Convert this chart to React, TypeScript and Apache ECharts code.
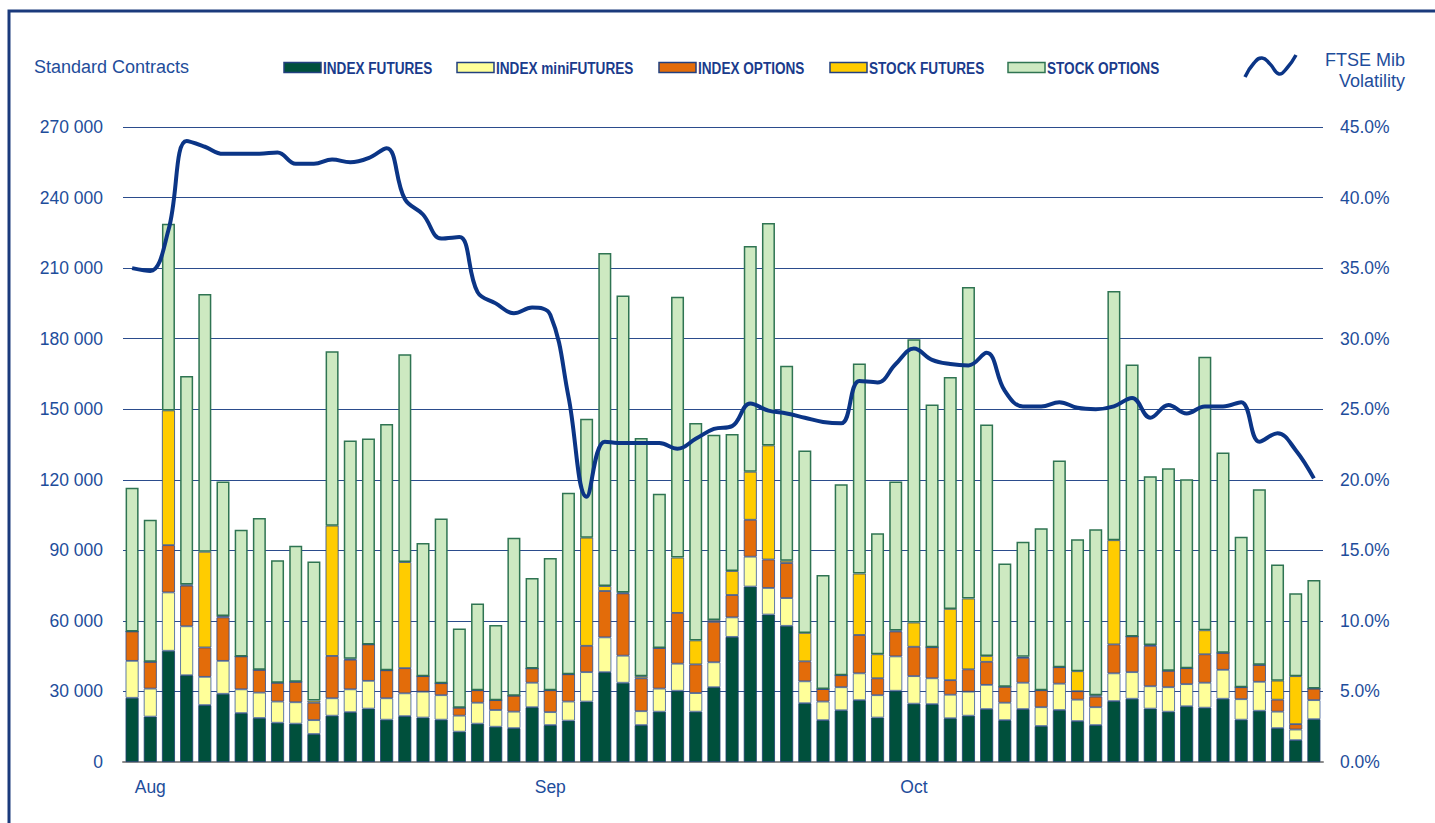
import React, { useEffect, useRef } from 'react';
import * as echarts from 'echarts';

// 66 trading days (Aug–Oct)
const categories: string[] = Array.from({ length: 66 }, (_, i) => `Day ${i + 1}`);
const monthTicks = [
  { index: 1, label: 'Aug' },
  { index: 23, label: 'Sep' },
  { index: 43, label: 'Oct' },
];

// Values in thousands of standard contracts
const indexFutures = [
  27.3, 19.3, 47.3, 36.9, 24.2, 29.0, 20.8, 18.7, 16.7, 16.3, 11.9, 19.7, 21.2, 22.7, 18.0, 19.5, 18.9, 18.0, 12.9, 16.3, 15.0, 14.4,
  23.3, 15.7, 17.6, 25.7, 38.2, 33.7, 15.7, 21.4, 30.3, 21.4, 31.8, 53.2, 74.6, 62.7, 57.9, 25.0, 17.8, 22.0, 26.3, 18.9, 30.3, 24.8,
  24.6, 18.6, 19.7, 22.5, 17.8, 22.5, 15.3, 22.1, 17.4, 15.7, 25.9, 26.9, 22.7, 21.4, 23.7, 23.1, 26.9, 18.0, 21.8, 14.4, 9.3, 18.2,
];
const indexMiniFutures = [
  15.7, 11.9, 24.8, 20.8, 12.0, 14.0, 10.1, 10.8, 9.0, 9.1, 5.9, 7.4, 9.7, 11.8, 9.1, 9.7, 11.0, 10.4, 6.8, 8.9, 7.1, 7.0,
  10.4, 5.5, 8.1, 12.5, 14.8, 11.5, 5.9, 9.8, 11.5, 7.9, 10.6, 8.3, 12.7, 11.3, 11.8, 9.3, 7.9, 9.8, 11.4, 9.5, 14.6, 11.7,
  11.0, 10.0, 10.2, 10.3, 7.4, 11.2, 8.0, 11.2, 9.1, 7.6, 11.8, 11.3, 9.5, 10.4, 9.4, 10.6, 12.3, 8.7, 12.3, 7.0, 4.5, 8.1,
];
const indexOptions = [
  12.5, 11.4, 20.1, 17.3, 12.5, 18.5, 14.0, 9.7, 8.0, 8.7, 7.4, 18.0, 12.6, 15.5, 11.9, 10.7, 6.6, 5.1, 3.4, 5.3, 4.2, 6.8,
  6.1, 9.3, 11.6, 11.2, 19.7, 26.5, 14.0, 17.3, 21.6, 12.2, 17.2, 9.5, 15.7, 12.1, 14.9, 8.5, 5.3, 5.1, 16.3, 7.2, 10.6, 12.5,
  13.2, 6.2, 9.5, 9.8, 6.8, 10.6, 7.2, 7.0, 3.6, 4.5, 12.3, 15.2, 17.2, 7.0, 6.8, 12.1, 7.2, 5.1, 7.2, 5.1, 2.3, 4.9,
];
const stockFutures = [
  0, 0, 57.3, 0.5, 40.7, 0.6, 0, 0, 0, 0, 0.9, 55.4, 0.4, 0, 0, 45.1, 0, 0, 0, 0, 0, 0,
  0, 0, 0, 46.0, 2.1, 0.4, 0.9, 0, 23.5, 10.2, 0.8, 10.2, 20.4, 48.5, 1.0, 12.1, 0, 0, 26.1, 10.2, 0.4, 10.3,
  0, 30.3, 30.1, 2.5, 0, 0.4, 0, 0, 8.5, 0.6, 44.3, 0, 0.4, 0, 0, 10.2, 0, 0, 0, 8.1, 20.4, 0,
];
const stockOptions = [
  61.1, 60.4, 79.4, 88.6, 109.6, 57.2, 53.9, 64.5, 52.1, 57.9, 59.1, 74.2, 92.8, 87.6, 104.7, 88.4, 56.6, 70.0, 33.7, 36.9, 32.0, 67.2,
  38.4, 56.2, 77.2, 50.6, 141.6, 126.3, 101.3, 65.6, 110.9, 92.4, 78.7, 58.3, 96.0, 94.6, 82.9, 77.6, 48.5, 81.2, 89.3, 51.5, 63.4, 120.5,
  103.2, 98.6, 132.5, 98.4, 52.4, 49.0, 68.9, 87.9, 56.1, 70.6, 106.0, 115.6, 71.7, 86.1, 80.3, 116.3, 85.2, 64.0, 74.7, 49.4, 35.2, 46.2,
];
// FTSE Mib volatility, %
const volatility = [
  35.0, 34.8, 37.7, 44.0, 43.6, 43.1, 43.1, 43.1, 43.2, 42.4, 42.4, 42.7, 42.5, 42.8, 43.5, 39.9, 38.8, 37.1, 37.2, 33.3, 32.5, 31.8,
  32.2, 31.7, 25.9, 18.8, 22.7, 22.6, 22.6, 22.6, 22.2, 22.9, 23.6, 23.8, 25.4, 24.9, 24.7, 24.4, 24.1, 24.0, 27.0, 26.9, 28.2, 29.3,
  28.5, 28.2, 28.1, 29.0, 26.3, 25.2, 25.2, 25.5, 25.1, 25.0, 25.2, 25.8, 24.4, 25.3, 24.7, 25.2, 25.2, 25.5, 22.7, 23.3, 22.1, 20.1,
];

const BLUE = '#1e4d9b';
const NAVY = '#1a3b8c';
const FONT = '"Liberation Sans", Arial, sans-serif';

const barSeriesDefs = [
  { name: 'INDEX FUTURES', data: indexFutures, color: '#00503c', border: '#1d3f6e', bw: 0.8 },
  { name: 'INDEX miniFUTURES', data: indexMiniFutures, color: '#ffff99', border: '#3a5a99', bw: 0.8 },
  { name: 'INDEX OPTIONS', data: indexOptions, color: '#e36c0a', border: '#2b4a8b', bw: 0.8 },
  { name: 'STOCK FUTURES', data: stockFutures, color: '#ffcc00', border: '#2b4a8b', bw: 0.8 },
  { name: 'STOCK OPTIONS', data: stockOptions, color: '#cde9c1', border: '#2f7452', bw: 1.5 },
];
// legend item left edges (layout)
const legendX = [284, 457, 659, 830, 1008];

export default function App() {
  const ref = useRef<HTMLDivElement>(null);
  useEffect(() => {
    document.body.style.margin = '0';
    if (!ref.current) return;
    const chart = echarts.init(ref.current, undefined, { renderer: 'svg' });
    const k = (a: number[]) => a.map((v) => Math.round(v * 1000));
    const tickSet = new Set(monthTicks.map((t) => t.index));

    const legendGraphics: any[] = [];
    barSeriesDefs.forEach((d, i) => {
      const x = legendX[i];
      legendGraphics.push({
        type: 'rect',
        shape: { x, y: 62.5, width: 37, height: 10 },
        style: { fill: d.color, stroke: i === 4 ? '#2f7452' : '#22407f', lineWidth: 1.5 },
      });
      legendGraphics.push({
        type: 'text',
        x: x + 39,
        y: 68,
        scaleX: 0.8,
        style: {
          text: d.name,
          fill: NAVY,
          font: `bold 17px ${FONT}`,
          verticalAlign: 'middle',
        },
      });
    });

    const option: any = {
      animation: false,
      backgroundColor: '#ffffff',
      textStyle: { fontFamily: FONT },
      grid: { left: 123, right: 112, top: 127, bottom: 61 },
      xAxis: {
        type: 'category',
        data: categories,
        axisTick: { show: false },
        axisLine: { lineStyle: { color: '#8c8c8c', width: 2 } },
        axisLabel: {
          interval: (i: number) => tickSet.has(i),
          formatter: (_v: string, i: number) => {
            const t = monthTicks.find((m) => m.index === i);
            return t ? t.label : '';
          },
          color: BLUE,
          fontSize: 17.5,
          margin: 16,
          fontFamily: FONT,
        },
      },
      yAxis: [
        {
          type: 'value',
          min: 0,
          max: 270000,
          interval: 30000,
          axisLine: { show: false },
          axisTick: { show: false },
          splitLine: { lineStyle: { color: '#2b4c8c', width: 1 } },
          axisLabel: {
            color: BLUE,
            fontSize: 17.5,
            margin: 20,
            fontFamily: FONT,
            formatter: (v: number) => String(v).replace(/\B(?=(\d{3})+(?!\d))/g, ' '),
          },
        },
        {
          type: 'value',
          min: 0,
          max: 45,
          interval: 5,
          axisLine: { show: false },
          axisTick: { show: false },
          splitLine: { show: false },
          axisLabel: {
            color: BLUE,
            fontSize: 17.5,
            margin: 17,
            fontFamily: FONT,
            formatter: (v: number) => v.toFixed(1) + '%',
          },
        },
      ],
      series: [
        ...barSeriesDefs.map((d) => ({
          type: 'bar',
          stack: 'contracts',
          barWidth: 13,
          yAxisIndex: 0,
          name: d.name,
          data: k(d.data),
          itemStyle: { color: d.color, borderColor: d.border, borderWidth: d.bw },
        })),
        {
          type: 'line',
          name: 'FTSE Mib Volatility',
          yAxisIndex: 1,
          data: volatility,
          smooth: 0.4,
          showSymbol: false,
          symbol: 'none',
          z: 5,
          lineStyle: { color: '#0b3586', width: 4 },
        },
      ],
      graphic: [
        {
          type: 'rect',
          shape: { x: 9, y: 11, width: 1440, height: 830 },
          style: { fill: 'none', stroke: '#1a3a7c', lineWidth: 3 },
          silent: true,
        },
        {
          type: 'text',
          x: 34,
          y: 58,
          style: { text: 'Standard Contracts', fill: BLUE, font: `18px ${FONT}` },
        },
        {
          type: 'text',
          x: 1405,
          y: 49,
          style: { text: 'FTSE Mib\nVolatility', fill: BLUE, font: `18px ${FONT}`, align: 'right', lineHeight: 21 },
        },
        {
          type: 'polyline',
          shape: {
            points: [[1245, 77], [1254, 63], [1262, 58], [1270, 64], [1279, 74], [1287, 68], [1296, 55]],
            smooth: 0.5,
          },
          style: { stroke: '#0b3586', lineWidth: 3.5, fill: 'none' },
        },
        ...legendGraphics,
      ],
    };
    chart.setOption(option);
    return () => chart.dispose();
  }, []);
  return <div ref={ref} style={{ width: 1435, height: 823 }} />;
}
